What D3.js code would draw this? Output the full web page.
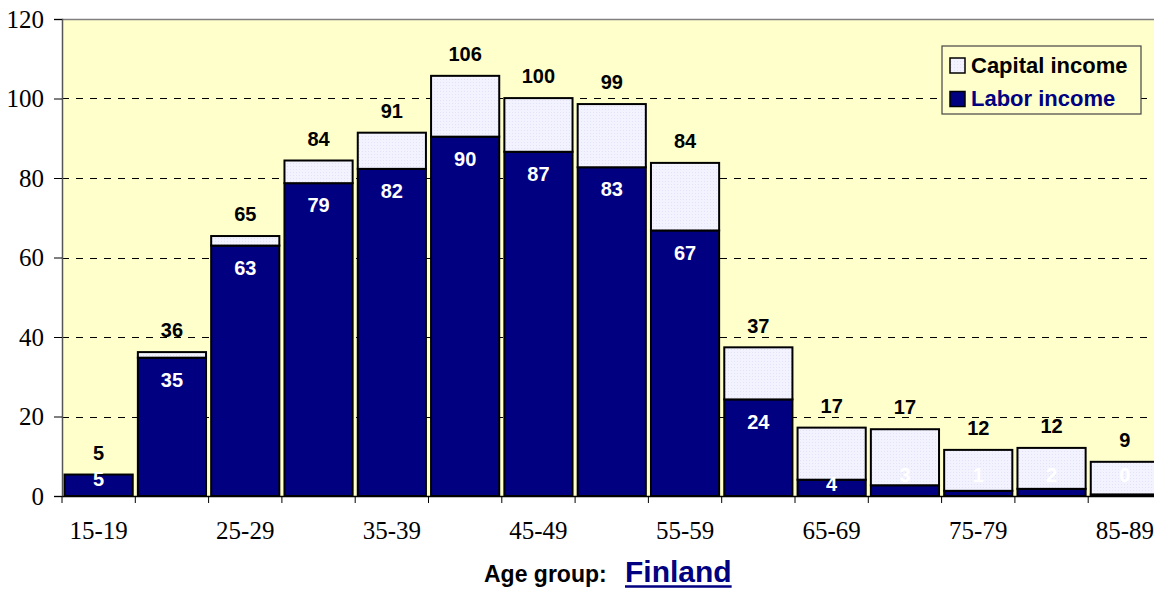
<!DOCTYPE html>
<html>
<head>
<meta charset="utf-8">
<script src="https://cdn.jsdelivr.net/npm/d3@7"></script>
<style>
  body { margin: 0; background: #fff; }
  svg { display: block; }
</style>
</head>
<body>
<div id="chart"></div>
<script>
const WIDTH = 1154
const HEIGHT = 592

// data
const ageGroups = ['15-19', '20-24', '25-29', '30-34', '35-39', '40-44', '45-49', '50-54',
	'55-59', '60-64', '65-69', '70-74', '75-79', '80-84', '85-89']
const laborIncome = [5.4, 34.8, 63.0, 78.7, 82.3, 90.4, 86.6, 82.7, 66.8, 24.3, 4.1, 2.7, 1.3, 1.8, 0.4]
const totalIncome = [5.4, 36.2, 65.4, 84.4, 91.4, 105.7, 100.1, 98.6, 83.8, 37.4, 17.2, 16.8, 11.6, 12.1, 8.6]
const yTicks = [0, 20, 40, 60, 80, 100, 120]
const seriesNames = ['Capital income', 'Labor income']

const margin = { left: 62, top: 19, bottom: 96 }
const plotW = 73.3 * ageGroups.length
const plotH = HEIGHT - margin.top - margin.bottom

const NAVY = '#000080'
const BG = '#ffffcc'

let data = ageGroups.map((g, i) => ({
	group: g,
	labor: laborIncome[i],
	total: totalIncome[i]
}))

let x = d3.scaleBand()
	.domain(ageGroups)
	.range([0, plotW])
	.paddingInner(0.07)
	.paddingOuter(0.035)

let y = d3.scaleLinear()
	.domain([0, 120])
	.range([plotH, 0])

let fmt = d3.format('.0f')

let svg = d3.select('#chart')
	.append('svg')
	.attr('width', WIDTH)
	.attr('height', HEIGHT)

// dotted texture for capital income
let defs = svg.append('defs')
let pat = defs.append('pattern')
	.attr('id', 'capPat')
	.attr('width', 3)
	.attr('height', 3)
	.attr('patternUnits', 'userSpaceOnUse')
pat.append('rect').attr('width', 3).attr('height', 3).attr('fill', '#f3f3ff')
pat.append('rect').attr('width', 1).attr('height', 1).attr('fill', '#e2e2f8')

let g = svg.append('g')
	.attr('transform', `translate(${margin.left},${margin.top})`)

g.append('rect')
	.attr('width', plotW)
	.attr('height', plotH)
	.attr('fill', BG)

// top border of plot area
g.append('line')
	.attr('x1', 0).attr('x2', plotW)
	.attr('y1', 0.5).attr('y2', 0.5)
	.attr('stroke', '#808080')
	.attr('stroke-width', 1.5)

// gridlines
g.selectAll('.grid')
	.data(yTicks.filter(d => d > 0 && d < 120))
	.enter()
	.append('line')
	.attr('class', 'grid')
	.attr('x1', 0).attr('x2', plotW)
	.attr('y1', d => Math.round(y(d)) + 0.5)
	.attr('y2', d => Math.round(y(d)) + 0.5)
	.attr('stroke', '#000')
	.attr('stroke-width', 1)
	.attr('stroke-dasharray', '7,7')

// y axis
let yAxis = d3.axisLeft(y)
	.tickValues(yTicks)
	.tickSize(8)
	.tickPadding(10)

g.append('g')
	.attr('class', 'y-axis')
	.call(yAxis)
	.call(a => a.select('.domain').attr('stroke', '#555').attr('stroke-width', 1.5))
	.call(a => a.selectAll('.tick line').attr('stroke', '#000'))
	.call(a => a.selectAll('.tick text')
		.attr('font-family', '"Liberation Serif", "Times New Roman", serif')
		.attr('font-size', '25px')
		.attr('fill', '#000'))

// bars: labor
g.selectAll('.labor')
	.data(data)
	.enter()
	.append('rect')
	.attr('class', 'labor')
	.attr('x', d => x(d.group))
	.attr('width', x.bandwidth())
	.attr('y', d => y(d.labor))
	.attr('height', d => y(0) - y(d.labor))
	.attr('fill', NAVY)
	.attr('stroke', '#000')
	.attr('stroke-width', 2)

// bars: capital
g.selectAll('.capital')
	.data(data)
	.enter()
	.append('rect')
	.attr('class', 'capital')
	.attr('x', d => x(d.group))
	.attr('width', x.bandwidth())
	.attr('y', d => y(d.total))
	.attr('height', d => y(d.labor) - y(d.total))
	.attr('fill', 'url(#capPat)')
	.attr('stroke', '#000')
	.attr('stroke-width', 2)

// x axis: ticks at category boundaries, labels on every other group
let xAxis = d3.axisBottom(x)
	.tickSize(0)
	.tickPadding(0)
	.tickFormat((d, i) => i % 2 === 0 ? d : '')

g.append('g')
	.attr('class', 'x-axis')
	.attr('transform', `translate(0,${plotH})`)
	.call(xAxis)
	.call(a => a.select('.domain').attr('stroke', '#000').attr('stroke-width', 1.5))
	.call(a => a.selectAll('.tick line')
		.attr('x1', -x.step() / 2).attr('x2', -x.step() / 2)
		.attr('y1', 0).attr('y2', 7)
		.attr('stroke', '#000'))
	.call(a => a.selectAll('.tick text')
		.attr('y', 35)
		.attr('dy', '0.32em')
		.attr('font-family', '"Liberation Serif", "Times New Roman", serif')
		.attr('font-size', '25px')
		.attr('fill', '#000'))

// total labels above bars
g.selectAll('.total-label')
	.data(data)
	.enter()
	.append('text')
	.attr('class', 'total-label')
	.attr('x', d => x(d.group) + x.bandwidth() / 2)
	.attr('y', d => y(d.total) - 22)
	.attr('dy', '0.36em')
	.attr('text-anchor', 'middle')
	.attr('font-family', '"Liberation Sans", Arial, sans-serif')
	.attr('font-weight', 'bold')
	.attr('font-size', '20px')
	.attr('fill', '#000')
	.text(d => fmt(d.total))

// labor labels inside bars
function laborLabelY(d) {
	let top = y(d.labor)
	let h = y(0) - top
	if (h >= 44) return top + 22
	if (h >= 12) return top + 4
	return y(0) - 21
}

g.selectAll('.labor-label')
	.data(data)
	.enter()
	.append('text')
	.attr('class', 'labor-label')
	.attr('x', d => x(d.group) + x.bandwidth() / 2)
	.attr('y', laborLabelY)
	.attr('dy', '0.36em')
	.attr('text-anchor', 'middle')
	.attr('font-family', '"Liberation Sans", Arial, sans-serif')
	.attr('font-weight', 'bold')
	.attr('font-size', '20px')
	.attr('fill', '#fff')
	.text(d => fmt(d.labor))

// legend
let legend = svg.append('g')
	.attr('class', 'legend')
	.attr('transform', 'translate(942,46)')

legend.append('rect')
	.attr('width', 199)
	.attr('height', 68)
	.attr('fill', BG)
	.attr('stroke', '#444')
	.attr('stroke-width', 1.2)

let legendFills = ['url(#capPat)', NAVY]
let legendText = ['#000', NAVY]

legend.selectAll('.sw')
	.data(seriesNames)
	.enter()
	.append('rect')
	.attr('class', 'sw')
	.attr('x', 8)
	.attr('y', (d, i) => 12 + i * 33.5)
	.attr('width', 15)
	.attr('height', 15)
	.attr('fill', (d, i) => legendFills[i])
	.attr('stroke', '#000')
	.attr('stroke-width', 1.5)

legend.selectAll('text')
	.data(seriesNames)
	.enter()
	.append('text')
	.attr('x', 29)
	.attr('y', (d, i) => 27 + i * 32.5)
	.attr('font-family', '"Liberation Sans", Arial, sans-serif')
	.attr('font-weight', 'bold')
	.attr('font-size', '22px')
	.attr('fill', (d, i) => legendText[i])
	.text(d => d)

// axis title
svg.append('text')
	.attr('x', 484)
	.attr('y', 582)
	.attr('font-family', '"Liberation Sans", Arial, sans-serif')
	.attr('font-weight', 'bold')
	.attr('font-size', '23px')
	.attr('fill', '#000')
	.text('Age group:')

let country = svg.append('text')
	.attr('x', 625)
	.attr('y', 582)
	.attr('font-family', '"Liberation Sans", Arial, sans-serif')
	.attr('font-weight', 'bold')
	.attr('font-size', '30px')
	.attr('fill', NAVY)
	.text('Finland')

let cw = country.node().getComputedTextLength()
svg.append('line')
	.attr('x1', 625).attr('x2', 625 + cw)
	.attr('y1', 586.5).attr('y2', 586.5)
	.attr('stroke', NAVY)
	.attr('stroke-width', 2.5)
</script>
</body>
</html>
